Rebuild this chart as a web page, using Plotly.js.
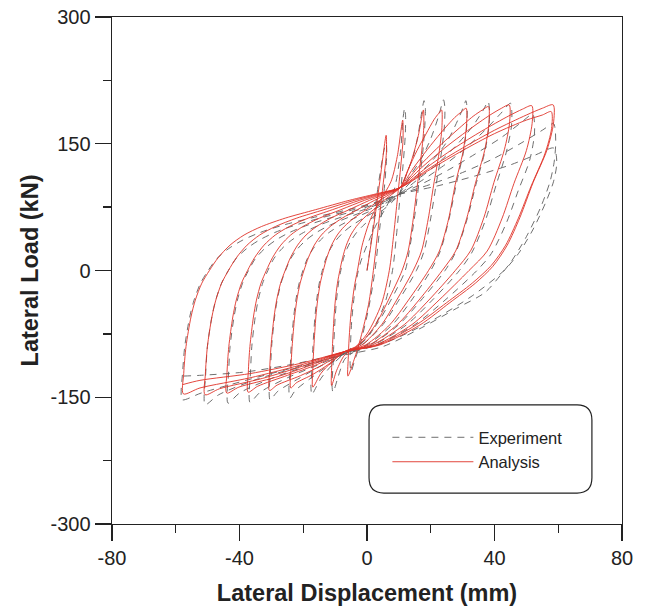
<!DOCTYPE html>
<html><head><meta charset="utf-8">
<script src="https://cdn.plot.ly/plotly-3.0.1.min.js"></script>
<style>html,body{margin:0;padding:0;background:#fff}#chart{width:646px;height:611px}</style>
</head><body><div id="chart"></div>
<script>
// Experiment cycles: [displacement (mm), load (kN)]
const expCycle1 = [[0,0],[1.5,40],[3.5,100],[5.5,145],[6,150],[6.2,140],[5.5,100],[4,50],[2.5,0],[0.5,-45],[-2,-85],[-4,-108],[-5,-120]];
const expCycle2 = [[-5.3,-110],[-5.2,-90],[-4.8,-60],[-4,-30],[-3,-5],[-2,10],[0,30],[3,55],[6,75],[8.5,95],[10.5,140],[11.3,180],[11.8,192],[12.1,183],[12,160],[11.2,120],[10.2,80],[9.2,40],[8,0],[5.5,-40],[1,-75],[-4,-95],[-7,-105],[-9,-125],[-10.2,-140],[-10.7,-144]];
const expCycle3 = [[-11,-134],[-10.67,-114],[-10.45,-90],[-9.98,-55],[-9.56,-35],[-8.94,-15],[-8.22,0],[-7.39,14],[-6.25,26],[-4.9,36],[-3.25,45],[-0.97,54],[1.93,63],[5.14,72],[8.14,82],[10,90],[12.5,115],[14.5,135],[16,160],[17.2,188],[17.9,201],[18.3,193],[18.2,175],[17.5,140],[16.2,100],[14.8,60],[13.2,22],[12,0],[7.5,-35],[3,-64],[-2.5,-88],[-7,-98],[-11,-112],[-14.5,-128],[-16.5,-142],[-17.3,-147]];
const expCycle4 = [[-17.6,-137],[-17.26,-117],[-16.97,-90],[-16.34,-55],[-15.8,-35],[-14.98,-15],[-14.02,0],[-12.93,14],[-11.43,26],[-9.66,36],[-7.47,45],[-4.47,54],[-0.65,63],[3.58,72],[7.54,82],[10,90],[13.5,112],[17,132],[20,156],[22.5,183],[24,202],[24.4,194],[24.3,172],[23.4,141],[21.7,102],[20,62],[17.9,23],[15.5,0],[10,-35],[5,-64],[-1.5,-88],[-7,-98],[-12,-112],[-17.5,-127],[-22.5,-142],[-24.2,-151]];
const expCycle5 = [[-24.5,-141],[-24.15,-121],[-23.79,-90],[-23,-55],[-22.32,-35],[-21.29,-15],[-20.1,0],[-18.73,14],[-16.85,26],[-14.62,36],[-11.89,45],[-8.13,54],[-3.34,63],[1.96,72],[6.92,82],[10,90],[15,110],[20,128],[25,152],[28.5,178],[30.5,196],[31,201],[31.4,193],[31.3,172],[30.3,141],[28,102],[25.8,62],[23,23],[20,0],[14,-35],[8,-64],[0,-88],[-7,-98],[-14,-112],[-21,-127],[-28,-143],[-30.4,-153]];
const expCycle6 = [[-30.7,-143],[-30.34,-123],[-29.92,-90],[-28.99,-55],[-28.18,-35],[-26.97,-15],[-25.55,0],[-23.94,14],[-21.71,26],[-19.09,36],[-15.86,45],[-11.41,54],[-5.76,63],[0.51,72],[6.36,82],[10,90],[16,108],[22,126],[28,148],[33,170],[36.5,190],[38,200],[38.4,192],[38.3,172],[37,141],[34.2,102],[31.5,62],[28,23],[24.5,0],[17,-35],[10,-64],[1,-88],[-7,-98],[-15.5,-112],[-25,-127],[-33.5,-144],[-36.7,-156]];
const expCycle7 = [[-37,-146],[-36.63,-126],[-36.14,-90],[-35.07,-55],[-34.13,-35],[-32.73,-15],[-31.1,0],[-29.23,14],[-26.66,26],[-23.62,36],[-19.89,45],[-14.75,54],[-8.21,63],[-0.97,72],[5.8,82],[10,90],[17,106],[24,124],[31,145],[37,166],[42,186],[45,198],[45.4,190],[45.3,170],[43.7,140],[40.5,101],[37.3,61],[33,22],[29,0],[20.5,-35],[12.5,-64],[2,-88],[-7,-98],[-18,-112],[-29.5,-127],[-40,-145],[-43.6,-157]];
const expCycle8 = [[-43.9,-147],[-43.52,-127],[-42.96,-90],[-41.72,-55],[-40.65,-35],[-39.04,-15],[-37.17,0],[-35.02,14],[-32.08,26],[-28.59,36],[-24.3,45],[-18.41,54],[-10.9,63],[-2.6,72],[5.18,82],[10,90],[18,104],[26,120],[34,138],[42,157],[48,174],[52,185],[52.5,177],[52.5,160],[51,130],[47.5,95],[43.8,57],[39,20],[34.5,0],[24.5,-35],[15,-64],[3,-88],[-7,-99],[-20,-113],[-34,-128],[-46.5,-147],[-50.8,-159]];
const expCycle9 = [[-51.1,-149],[-50.71,-129],[-50.07,-90],[-48.67,-55],[-47.46,-35],[-45.63,-15],[-43.5,0],[-41.07,14],[-37.73,26],[-33.78,36],[-28.91,45],[-22.22,54],[-13.71,63],[-4.29,72],[4.53,82],[10,90],[20,102],[30,116],[40,133],[48,150],[55,166],[58.5,174],[59,168],[59.2,150],[58.7,128],[57.4,105],[54.5,75],[50,40],[45.5,12],[42,-5],[37,-26],[28,-45],[17,-68],[5,-90],[-7,-100],[-22,-114],[-38,-130],[-52,-145],[-58,-153]];
const expCycle10 = [[-58.3,-143],[-57.9,-123],[-57.18,-90],[-55.62,-55],[-54.26,-35],[-52.22,-15],[-49.84,0],[-47.12,14],[-43.38,26],[-38.96,36],[-33.52,45],[-26.04,54],[-16.52,63],[-5.98,72],[3.88,82],[10,90],[22,100],[34,112],[45,125],[53,137],[58.5,145],[59.3,138],[59.5,125],[58.5,105],[56,80],[52,48],[47.5,20],[43,0],[33,-30],[20,-60],[6,-85],[-7,-97],[-22,-110],[-38,-120],[-52,-124],[-58,-125]];

// Analysis cycles
const anaCycle1 = [[0,0],[2,50],[4,105],[6,160],[6.1,140],[5,100],[3.5,50],[2,0],[0.5,-40],[-2,-80],[-4,-105],[-6,-125]];
const anaCycle2 = [[-5.9,-105],[-5.6,-80],[-5,-50],[-4,-20],[-3,0],[-1.5,30],[1,60],[4,82],[7.5,105],[9.5,135],[11.2,178],[11.3,155],[10.5,120],[9.4,80],[8.3,40],[7,0],[4.5,-40],[0,-75],[-4,-92],[-7,-100],[-9.5,-118],[-11.1,-136]];
const anaCycle3 = [[-11.07,-112],[-10.84,-90],[-10.35,-55],[-9.92,-35],[-9.27,-15],[-8.52,0],[-7.66,15],[-6.48,30],[-5.08,42],[-3.36,52],[-0.99,62],[2.02,72],[5.35,83],[8.47,92],[10.4,98],[13.5,125],[16,158],[17.7,190],[17.8,169],[17.1,139],[15.8,101],[14.5,61],[12.9,23],[11,0],[6.7,-35],[2.7,-64],[-2.5,-88],[-7,-96],[-11,-108],[-14.5,-122],[-17,-138]];
const anaCycle4 = [[-16.96,-114],[-16.67,-90],[-16.04,-55],[-15.49,-35],[-14.67,-15],[-13.71,0],[-12.62,15],[-11.11,30],[-9.33,42],[-7.14,52],[-4.12,62],[-0.29,72],[3.96,83],[7.93,92],[10.4,98],[13,120.5],[15.7,142],[18.5,161.5],[21.1,179],[22.5,186],[23.4,190],[23.5,169],[22.6,139],[20.9,101],[19.2,61],[17.1,23],[14.5,0],[9.3,-35],[4.6,-64],[-1.6,-88],[-7,-96],[-11.7,-110],[-17,-123],[-22.2,-133],[-23.9,-139]];
const anaCycle5 = [[-23.85,-115],[-23.49,-90],[-22.7,-55],[-22.01,-35],[-20.98,-15],[-19.78,0],[-18.41,15],[-16.53,30],[-14.3,42],[-11.55,52],[-7.78,62],[-2.98,72],[2.34,83],[7.31,92],[10.4,98],[14.5,121],[18.9,143],[23.2,163],[27.5,181],[29.7,188],[31.1,192],[31.2,171],[30.1,140],[27.7,102],[25.6,61],[22.7,23],[19.3,0],[13,-35],[7.2,-64],[-0.4,-88],[-7,-96],[-13.6,-111],[-20.9,-124.5],[-28.2,-135.6],[-30.6,-142]];
const anaCycle6 = [[-30.54,-118],[-30.11,-90],[-29.16,-55],[-28.34,-35],[-27.11,-15],[-25.68,0],[-24.04,15],[-21.78,30],[-19.12,42],[-15.84,52],[-11.33,62],[-5.59,72],[0.77,83],[6.71,92],[10.4,98],[15.9,121.5],[21.8,144],[27.6,164],[33.3,182.5],[36.2,190],[38.1,194],[38.2,173],[36.9,142],[34,103],[31.3,62],[27.8,23],[23.6,0],[16.3,-35],[9.5,-64],[0.7,-88],[-7,-96],[-15.5,-111],[-24.9,-124],[-34.3,-137],[-37.3,-144]];
const anaCycle7 = [[-37.23,-120],[-36.73,-90],[-35.63,-55],[-34.68,-35],[-33.25,-15],[-31.58,0],[-29.67,15],[-27.04,30],[-23.94,42],[-20.13,52],[-14.88,62],[-8.2,72],[-0.81,83],[6.11,92],[10.4,98],[17.2,122],[24.4,145],[31.6,165.6],[38.6,184],[42.2,192],[44.6,196],[44.7,174],[43.1,143],[39.8,104],[36.7,63],[32.6,24],[27.7,0],[19.4,-35],[11.7,-64],[1.7,-88],[-7,-96],[-17.4,-111.7],[-28.7,-126.4],[-40.2,-138],[-44,-145]];
const anaCycle8 = [[-43.92,-121],[-43.35,-90],[-42.1,-55],[-41.01,-35],[-39.38,-15],[-37.47,0],[-35.3,15],[-32.3,30],[-28.77,42],[-24.42,52],[-18.43,62],[-10.82,72],[-2.38,83],[5.5,92],[10.4,98],[18.7,121.8],[27.3,144.6],[36,165],[44.5,183],[48.8,191],[51.7,195],[51.8,174],[50,142],[46.1,103],[42.4,62],[37.7,23],[32,0],[22.6,-35],[14.1,-64],[2.8,-88],[-7,-96],[-19.2,-112],[-32.7,-127.6],[-46.3,-140],[-50.8,-147]];
const anaCycle9 = [[-50.71,-123],[-50.07,-90],[-48.66,-55],[-47.43,-35],[-45.6,-15],[-43.46,0],[-41.01,15],[-37.64,30],[-33.66,42],[-28.77,52],[-22.04,62],[-13.47,72],[-3.98,83],[4.89,92],[10.4,98],[20,122],[30,145],[40,166],[50,184],[55,192],[58.4,196],[58.5,174],[56.5,143],[52.1,104],[48,63],[44,30],[39.5,5],[34,-15],[26,-38],[16.6,-64.5],[4.1,-88],[-6.9,-96],[-21,-112],[-36.7,-127],[-52.4,-139],[-57.6,-146]];
const anaCycle10 = [[-57.5,-122],[-56.78,-90],[-55.22,-55],[-53.86,-35],[-51.82,-15],[-49.44,0],[-46.72,15],[-42.98,30],[-38.56,42],[-33.12,52],[-25.64,62],[-16.12,72],[-5.58,83],[4.28,92],[10.4,98],[20,120],[30,142],[40,162],[50,178],[55,184],[57.8,188],[57.9,168],[55.8,138],[51.5,100],[47.5,62],[43.5,30],[39,6],[33,-15],[25,-38],[15.6,-64],[3.5,-88],[-7,-96],[-21,-110],[-36.7,-122],[-52.4,-130],[-57.8,-135]];

const expCycles = [expCycle1,expCycle2,expCycle3,expCycle4,expCycle5,expCycle6,expCycle7,expCycle8,expCycle9,expCycle10];
const anaCycles = [anaCycle1,anaCycle2,anaCycle3,anaCycle4,anaCycle5,anaCycle6,anaCycle7,anaCycle8,anaCycle9,anaCycle10];

const xTickVals = [-80,-40,0,40,80];
const xTickText = ['-80','-40','0','40','80'];
const yTickVals = [-300,-150,0,150,300];
const yTickText = ['-300','-150','0','150','300'];
const seriesNames = ['Experiment','Analysis'];
const xTitle = 'Lateral Displacement (mm)';
const yTitle = 'Lateral Load (kN)';

function joinCycles(cycles){
  const x=[], y=[];
  cycles.forEach(c => c.forEach(p => { x.push(p[0]); y.push(p[1]); }));
  return {x, y};
}
const e = joinCycles(expCycles), a = joinCycles(anaCycles);

const FONT = 'Liberation Sans, Arial, Helvetica, sans-serif';
const traces = [
  {x:e.x, y:e.y, name:seriesNames[0], type:'scatter', mode:'lines',
   line:{color:'rgb(95,95,95)', width:0.9, dash:'7px,6px', shape:'spline', smoothing:0.8}},
  {x:a.x, y:a.y, name:seriesNames[1], type:'scatter', mode:'lines',
   line:{color:'rgb(224,50,40)', width:0.9, shape:'spline', smoothing:0.8}}
];

const axisCommon = {
  showgrid:false, zeroline:false, showline:true, mirror:true,
  linecolor:'#222', linewidth:1.4, ticks:'outside', ticklen:16, tickwidth:1.4, tickcolor:'#222',
  tickfont:{family:FONT, size:20, color:'#222'}
};

const layout = {
  width:646, height:611,
  margin:{l:112, r:24, t:17, b:87},
  paper_bgcolor:'#fff', plot_bgcolor:'#fff',
  font:{family:FONT, color:'#222'},
  xaxis:Object.assign({}, axisCommon, {
    range:[-80,80], tickmode:'array', tickvals:xTickVals, ticktext:xTickText,
    minor:{dtick:20, tick0:-80, ticks:'outside', ticklen:8, tickwidth:1.4, tickcolor:'#222'},
    title:{text:'<b>'+xTitle+'</b>', font:{family:FONT, size:23.5, color:'#222'}, standoff:16}
  }),
  yaxis:Object.assign({}, axisCommon, {
    range:[-300,300], tickmode:'array', tickvals:yTickVals, ticktext:yTickText,
    minor:{dtick:75, tick0:-300, ticks:'outside', ticklen:8, tickwidth:1.4, tickcolor:'#222'},
    title:{text:'<b>'+yTitle+'</b>', font:{family:FONT, size:23.5, color:'#222'}, standoff:5}
  }),
  showlegend:true,
  legend:{x:0.54, y:0.205, xanchor:'left', yanchor:'top', bgcolor:'rgba(0,0,0,0)',
    borderwidth:0, itemwidth:81, font:{family:FONT, size:16.5, color:'#222'}, tracegroupgap:0},
  shapes:[{type:'path', xref:'paper', yref:'paper', layer:'above',
    path:'M 0.533,0.235 L 0.912,0.235 Q 0.941,0.235 0.941,0.205 L 0.941,0.091 Q 0.941,0.061 0.912,0.061 L 0.533,0.061 Q 0.504,0.061 0.504,0.091 L 0.504,0.205 Q 0.504,0.235 0.533,0.235 Z',
    line:{color:'#222', width:1.2}, fillcolor:'rgba(255,255,255,0)'}]
};

Plotly.newPlot('chart', traces, layout, {displayModeBar:false, staticPlot:true});
</script></body></html>
